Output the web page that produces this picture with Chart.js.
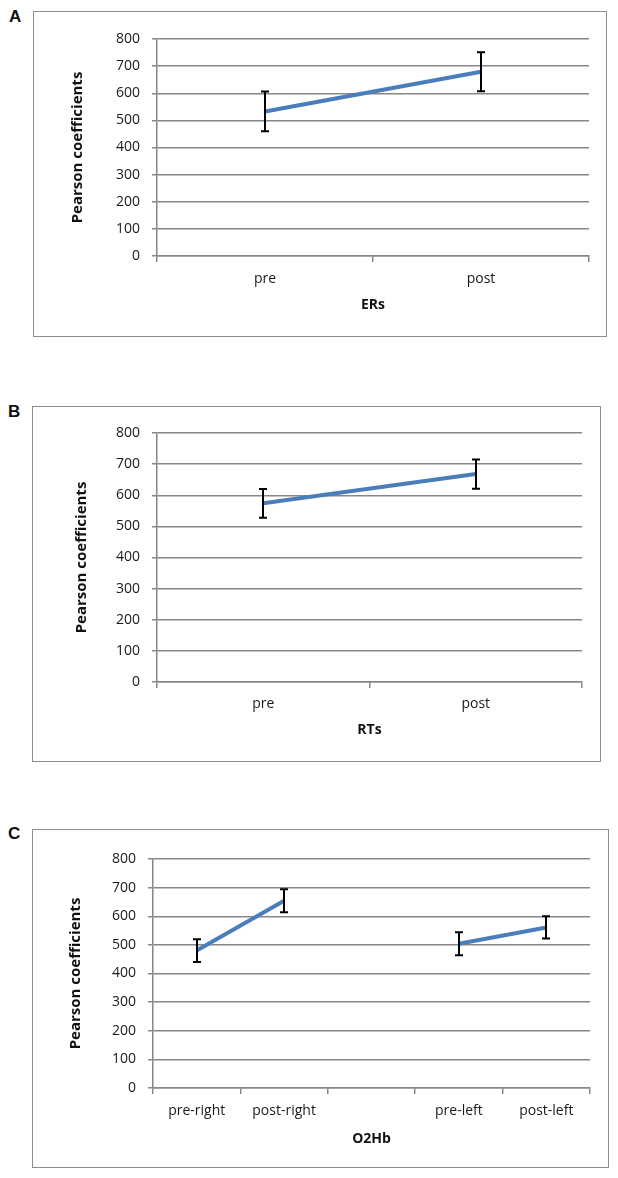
<!DOCTYPE html>
<html>
<head>
<meta charset="utf-8">
<script src="https://cdn.jsdelivr.net/npm/chart.js@4.4.0/dist/chart.umd.min.js"></script>
<style>
  html, body { margin: 0; padding: 0; background: #fff; }
  body { width: 618px; height: 1178px; position: relative; overflow: hidden; }
  .panel { position: absolute; box-sizing: border-box; border: 1px solid #8c8c8c; }
  .panel canvas { position: absolute; left: 0; top: 0; }
  .letter { position: absolute; font: bold 17px "Liberation Sans", Arial, sans-serif; color: #111; }
</style>
</head>
<body>
<div class="letter" style="left:9px; top:7px;">A</div>
<div class="panel" style="left:33px; top:11px; width:574px; height:326px;"><canvas id="chartA" width="572" height="324"></canvas></div>

<div class="letter" style="left:8px; top:402px;">B</div>
<div class="panel" style="left:32px; top:406px; width:569px; height:356px;"><canvas id="chartB" width="567" height="354"></canvas></div>

<div class="letter" style="left:8px; top:824px;">C</div>
<div class="panel" style="left:32px; top:829px; width:577px; height:339px;"><canvas id="chartC" width="575" height="337"></canvas></div>

<script>
// values
const erLabels = ['pre', 'post'];
const erMeans = [533, 679];
const erErrors = [73, 72];

const rtLabels = ['pre', 'post'];
const rtMeans = [574, 668];
const rtErrors = [46, 47];

const o2hbLabels = ['pre-right', 'post-right', '', 'pre-left', 'post-left'];
const o2hbMeans = [480, 654, null, 504, 561];
const o2hbErrors = [40, 40, null, 40, 39];

const yMin = 0, yMax = 800, yStep = 100;
const yTitle = 'Pearson coefficients';

Chart.defaults.font.family = '"Open Sans", sans-serif';
Chart.defaults.color = '#1a1a1a';

const gridGray = '#878787';

// draws the +/- error whiskers through the y scale
const errorBars = {
    id: 'errorBars',
    afterDatasetsDraw(chart) {
        const ctx = chart.ctx;
        const y = chart.scales.y;
        chart.data.datasets.forEach((ds, i) => {
            if (!ds.errors) return;
            const meta = chart.getDatasetMeta(i);
            ctx.save();
            ctx.strokeStyle = '#000';
            ctx.lineWidth = 2;
            meta.data.forEach((pt, j) => {
                const v = ds.data[j], e = ds.errors[j];
                if (v == null || e == null) return;
                const top = y.getPixelForValue(v + e);
                const bot = y.getPixelForValue(v - e);
                const x = Math.round(pt.x);
                ctx.beginPath();
                ctx.moveTo(x, top); ctx.lineTo(x, bot);
                ctx.moveTo(x - 4, top); ctx.lineTo(x + 4, top);
                ctx.moveTo(x - 4, bot); ctx.lineTo(x + 4, bot);
                ctx.stroke();
            });
            ctx.restore();
        });
    }
};

function makeChart(id, labels, means, errors, xTitle, lay) {
    return new Chart(document.getElementById(id), {
        type: 'line',
        data: {
            labels: labels,
            datasets: [{
                data: means,
                errors: errors,
                borderColor: '#4a7ebb',
                borderWidth: 4,
                pointRadius: 0,
                spanGaps: false,
                tension: 0
            }]
        },
        options: {
            responsive: false,
            animation: false,
            devicePixelRatio: 1,
            layout: { padding: { left: 0, right: lay.right, top: lay.top, bottom: 0 } },
            plugins: { legend: { display: false }, tooltip: { enabled: false } },
            scales: {
                x: {
                    offset: true,
                    grid: { offset: true, drawOnChartArea: false, drawTicks: true, tickLength: 6, color: gridGray, lineWidth: 1.5 },
                    border: { color: gridGray, width: 1.5 },
                    ticks: { font: { size: 14 }, padding: lay.xPad, color: '#1a1a1a', maxRotation: 0, autoSkip: false },
                    title: { display: true, text: xTitle, font: { size: 14, weight: 'bold' }, color: '#111', padding: { top: 0, bottom: lay.xTitlePad } },
                    afterFit: s => { s.height = lay.xH; }
                },
                y: {
                    min: yMin, max: yMax,
                    ticks: { stepSize: yStep, font: { size: 14 }, padding: 12, color: '#1a1a1a' },
                    grid: { color: gridGray, lineWidth: 1.5, tickLength: 5 },
                    border: { color: gridGray, width: 1.5 },
                    title: { display: true, text: yTitle, font: { size: 15, weight: 'bold' }, color: '#111', padding: { top: lay.yTitlePad, bottom: 0 } },
                    afterFit: s => { s.width = lay.yW; }
                }
            }
        },
        plugins: [errorBars]
    });
}

makeChart('chartA', erLabels, erMeans, erErrors, 'ERs',
    { yW: 123, xH: 80, right: 17, top: 27, xPad: 9, xTitlePad: 23, yTitlePad: 35 });
makeChart('chartB', rtLabels, rtMeans, rtErrors, 'RTs',
    { yW: 124, xH: 79, right: 18, top: 26, xPad: 8, xTitlePad: 23, yTitlePad: 40 });
makeChart('chartC', o2hbLabels, o2hbMeans, o2hbErrors, 'O2Hb',
    { yW: 120, xH: 79, right: 18, top: 29, xPad: 9, xTitlePad: 20, yTitlePad: 34 });
</script>
</body>
</html>
